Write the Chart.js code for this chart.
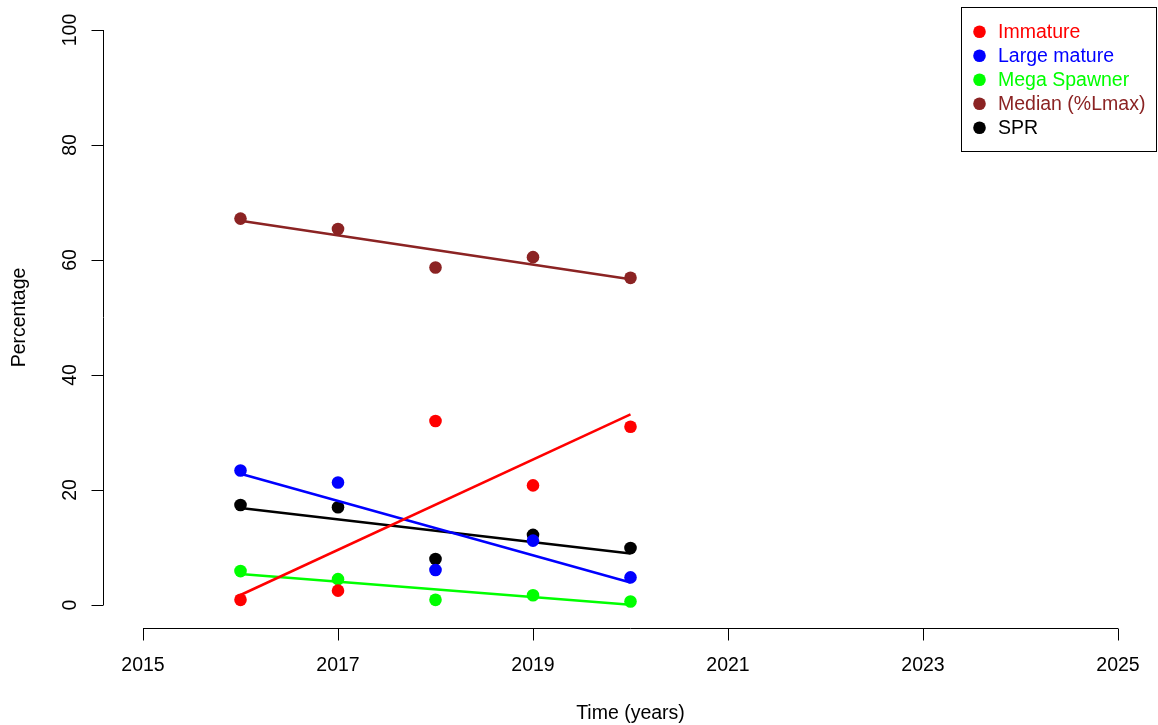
<!DOCTYPE html>
<html>
<head>
<meta charset="utf-8">
<script src="https://cdn.jsdelivr.net/npm/chart.js@4/dist/chart.umd.min.js"></script>
<style>
  html, body { margin: 0; padding: 0; background: #fff; }
  canvas { display: block; }
</style>
</head>
<body>
<canvas id="c" width="1158" height="725"></canvas>
<script>
// ---- Data ----
const years = [2016, 2017, 2018, 2019, 2020];
const immature = [0.9, 2.5, 32.0, 20.8, 31.0];
const largeMature = [23.4, 21.3, 6.1, 11.2, 4.8];
const megaSpawner = [5.9, 4.5, 0.9, 1.7, 0.6];
const medianLmax = [67.2, 65.4, 58.7, 60.5, 56.9];
const spr = [17.4, 17.0, 8.0, 12.2, 9.9];

const seriesNames = ["Immature", "Large mature", "Mega Spawner", "Median (%Lmax)", "SPR"];
const seriesColors = ["#FF0000", "#0000FF", "#00FF00", "#8B2323", "#000000"];
const xTicks = [2015, 2017, 2019, 2021, 2023, 2025];
const yTicks = [0, 20, 40, 60, 80, 100];
const xTitle = "Time (years)";
const yTitle = "Percentage";

const allSeries = [immature, largeMature, megaSpawner, medianLmax, spr];
const FONT = '"Liberation Sans", Arial, Helvetica, sans-serif';

// least-squares fit of each series against years
function fit(xs, ys) {
  const n = xs.length;
  const mx = xs.reduce((a, b) => a + b, 0) / n;
  const my = ys.reduce((a, b) => a + b, 0) / n;
  let sxy = 0, sxx = 0;
  for (let i = 0; i < n; i++) { sxy += (xs[i] - mx) * (ys[i] - my); sxx += (xs[i] - mx) ** 2; }
  const b = sxy / sxx, a = my - b * mx;
  return [{ x: xs[0], y: a + b * xs[0] }, { x: xs[n - 1], y: a + b * xs[n - 1] }];
}

const datasets = [];
allSeries.forEach((vals, i) => {
  datasets.push({
    type: 'line',
    label: seriesNames[i] + ' fit',
    data: fit(years, vals),
    borderColor: seriesColors[i],
    borderWidth: 2.5,
    pointRadius: 0,
    fill: false,
    tension: 0
  });
  datasets.push({
    type: 'scatter',
    label: seriesNames[i],
    data: years.map((x, j) => ({ x: x, y: vals[j] })),
    backgroundColor: seriesColors[i],
    borderColor: seriesColors[i],
    borderWidth: 0,
    pointRadius: 6.3,
    pointHoverRadius: 6.3
  });
});

const axesPlugin = {
  id: 'rAxes',
  afterDraw(chart) {
    const ctx = chart.ctx;
    const xs = chart.scales.x, ys = chart.scales.y;
    const ca = chart.chartArea;
    ctx.save();
    ctx.strokeStyle = '#000';
    ctx.lineWidth = 1;
    ctx.fillStyle = '#000';
    ctx.font = '19.5px ' + FONT;

    // X axis
    const yAxis = Math.round(ca.bottom) + 0.5;
    const x0 = xs.getPixelForValue(xTicks[0]), x1 = xs.getPixelForValue(xTicks[xTicks.length - 1]);
    ctx.beginPath();
    ctx.moveTo(x0, yAxis); ctx.lineTo(x1, yAxis);
    xTicks.forEach(t => {
      const p = Math.round(xs.getPixelForValue(t)) + 0.5;
      ctx.moveTo(p, yAxis); ctx.lineTo(p, yAxis + 12);
    });
    ctx.stroke();
    ctx.textAlign = 'center';
    ctx.textBaseline = 'middle';
    xTicks.forEach(t => ctx.fillText(String(t), xs.getPixelForValue(t), yAxis + 37));

    // Y axis
    const xAxis = Math.round(ca.left) - 0.5;
    const yb = ys.getPixelForValue(yTicks[0]), yt = ys.getPixelForValue(yTicks[yTicks.length - 1]);
    ctx.beginPath();
    ctx.moveTo(xAxis, yb); ctx.lineTo(xAxis, yt);
    yTicks.forEach(t => {
      const p = Math.round(ys.getPixelForValue(t)) + 0.5;
      ctx.moveTo(xAxis, p); ctx.lineTo(xAxis - 12, p);
    });
    ctx.stroke();
    yTicks.forEach(t => {
      ctx.save();
      ctx.translate(xAxis - 33, ys.getPixelForValue(t));
      ctx.rotate(-Math.PI / 2);
      ctx.fillText(String(t), 0, 0);
      ctx.restore();
    });

    // Titles
    ctx.fillText(xTitle, (ca.left + ca.right) / 2, 714);
    ctx.save();
    ctx.translate(20, (ca.top + ca.bottom) / 2);
    ctx.rotate(-Math.PI / 2);
    ctx.fillText(yTitle, 0, 0);
    ctx.restore();

    // Legend (top right, inside plot region)
    const lw = 195, lh = 144;
    const lx = Math.round(ca.right) - lw - 0.5, ly = Math.round(ca.top) + 0.5;
    ctx.fillStyle = '#fff';
    ctx.fillRect(lx, ly, lw, lh);
    ctx.strokeStyle = '#000';
    ctx.strokeRect(lx, ly, lw, lh);
    ctx.textAlign = 'left';
    seriesNames.forEach((name, i) => {
      const cy = ly + 24.2 + i * 24;
      ctx.fillStyle = seriesColors[i];
      ctx.beginPath();
      ctx.arc(lx + 18, cy, 6.3, 0, Math.PI * 2);
      ctx.fill();
      ctx.fillText(name, lx + 36.5, cy + 1);
    });
    ctx.restore();
  }
};

new Chart(document.getElementById('c'), {
  data: { datasets: datasets },
  options: {
    responsive: false,
    animation: false,
    layout: { autoPadding: false, padding: { left: 104, right: 1, top: 7, bottom: 97 } },
    plugins: { legend: { display: false }, tooltip: { enabled: false }, title: { display: false } },
    scales: {
      x: { type: 'linear', min: 2014.6, max: 2025.4, display: false },
      y: { type: 'linear', min: -4, max: 104, display: false }
    }
  },
  plugins: [axesPlugin]
});
</script>
</body>
</html>
